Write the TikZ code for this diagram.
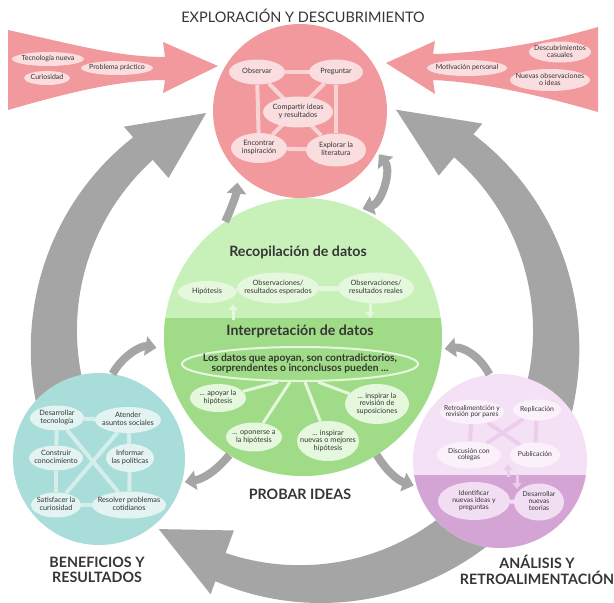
\documentclass[tikz,border=0pt]{standalone}
\usepackage{fontspec}
\setmainfont{Lato}
\usetikzlibrary{arrows.meta,positioning,shapes.geometric}

\definecolor{rojo}{HTML}{F1999D}
\definecolor{rojoclaro}{HTML}{FADDDE}
\definecolor{rojolink}{HTML}{F8D3D4}
\definecolor{verdeclaro}{HTML}{C8F0B9}
\definecolor{verde}{HTML}{A0DC87}
\definecolor{verdepill}{HTML}{E5F7DD}
\definecolor{turq}{HTML}{A8DDD9}
\definecolor{turqpill}{HTML}{E2F3F1}
\definecolor{turqlink}{HTML}{D4EEEB}
\definecolor{lilaclaro}{HTML}{F5E1F5}
\definecolor{lila}{HTML}{D4A5D4}
\definecolor{lilapill}{HTML}{FBF1FB}
\definecolor{lilabajo}{HTML}{F2DEF2}
\definecolor{lilalink}{HTML}{ECCDEC}
\definecolor{gris}{HTML}{A5A5A5}
\definecolor{texto}{HTML}{353535}

\pgfdeclarelayer{frente}
\pgfsetlayers{main,frente}

\newcommand{\ptx}[1]{\makebox[0pt]{\begin{tabular}{@{}c@{}}#1\end{tabular}}}
\renewcommand{\arraystretch}{0.8}

% flecha gris curva: angulo cola, angulo base de punta, angulo punta
\newcommand{\flechagris}[3]{%
  \fill[gris, shift={(305,335)}]
    plot[domain=#1:#2, samples=40] (\x:{280-18*(\x-#1)/(#2-#1)})
    -- (#2:276) -- (#3:243) -- (#2:208)
    -- plot[domain=#2:#1, samples=40] (\x:{232-6*(\x-#2)/(#1-#2)})
    -- cycle;}

\tikzset{
  circulo/.style={circle, inner sep=0pt},
  pill/.style={ellipse, inner sep=0pt, text=texto, font=\fontsize{7.3}{8.6}\selectfont},
  pillrojo/.style={pill, fill=rojoclaro},
  pillverde/.style={pill, fill=verdepill},
  pillturq/.style={pill, fill=turqpill},
  pilllila/.style={pill, fill=lilapill, font=\fontsize{6.8}{8}\selectfont},
  enlace/.style={draw, line width=4pt},
  flechita/.style={draw=gris, line width=8pt, -{Triangle[width=19pt,length=11pt]}},
  flechaclara/.style={draw=verdepill, line width=3pt, -{Triangle[width=9pt,length=6pt]}},
  etiqueta/.style={text=texto, align=center, font=\fontsize{14.3}{15.5}\selectfont\bfseries},
  subtitulo/.style={text=texto, font=\fontsize{14.2}{15}\selectfont\bfseries}
}

\begin{document}
\begin{tikzpicture}[x=1pt, y=-1pt]
  \useasboundingbox (0,0) rectangle (614,603);

  % grandes flechas grises del ciclo
  \flechagris{155}{229}{246}
  \flechagris{25}{-50}{-68}
  \flechagris{45}{110}{127}

  % flechas rojas de entrada
  \fill[rojo] (8,30) .. controls (80,46) and (120,57) .. (165,57) -- (163,42) -- (218,66)
    -- (163,93) -- (165,80) .. controls (120,80) and (70,92) .. (8,110) -- cycle;
  \fill[rojo] (598,27) .. controls (540,44) and (480,53) .. (433,54) -- (435,41) -- (386,63)
    -- (435,94) -- (433,80) .. controls (480,82) and (540,95) .. (598,112) -- cycle;

  % los cuatro circulos
  \node[circulo, fill=rojo, minimum size=174pt] (explora) at (300,111) {};
  \node[circulo, fill=verdeclaro, minimum size=278pt,
    path picture={\fill[verde] ([yshift=19pt]path picture bounding box.west)
      rectangle (path picture bounding box.south east);}] (prueba) at (303,337) {};
  \node[circulo, fill=turq, minimum size=172pt] (benef) at (99,459) {};
  \node[circulo, fill=lilaclaro, minimum size=174pt,
    path picture={\fill[lila] ([yshift=-14pt]path picture bounding box.west)
      rectangle (path picture bounding box.south east);}] (analisis) at (500,461) {};

  % flechas grises entre circulos
  \draw[flechita, shorten >=10pt] (prueba.124) to[bend right=10] (explora.225);
  \draw[flechita, {Triangle[width=19pt,length=11pt]}-{Triangle[width=19pt,length=11pt]},
    shorten >=3pt, shorten <=3pt] (explora.-28) to[bend left=55] (prueba.66);
  \draw[flechita, shorten >=8pt] (benef.81) to[bend left=35] (prueba.185);
  \draw[flechita, shorten >=3pt] (prueba.238) to[bend left=20] (benef.344);
  \draw[flechita, shorten >=3pt] (prueba.-58) to[bend right=20] (analisis.197);
  \draw[flechita, shorten >=3pt] (analisis.97) to[bend right=35] (prueba.-5);

  \begin{pgfonlayer}{frente}
  % entradas
  \foreach \pos/\name/\w/\h/\txt in {
    {(48,59)/tecn/72/14/Tecnología nueva}, {(47,78)/curi/46/14/Curiosidad},
    {(117,68)/prob/72/14/Problema práctico}, {(467,68)/moti/80/16/Motivación personal},
    {(560,52)/desc/62/21/{Descubrimientos\\casuales}},
    {(550,80)/obsn/80/22/{Nuevas observaciones\\o ideas}}} {
    \node[pillrojo, font=\fontsize{7}{8}\selectfont, minimum width=\w pt, minimum height=\h pt]
      (\name) at \pos {\ptx{\txt}};
  }

  % exploracion
  \foreach \pos/\name/\w/\h/\txt in {
    {(257,72)/obs/56/25/Observar}, {(336,72)/preg/54/25/Preguntar},
    {(298,112)/comp/70/31/{Compartir ideas\\y resultados}},
    {(259,148)/enco/56/30/{Encontrar\\inspiración}},
    {(336,150)/lite/60/33/{Explorar la\\literatura}}} {
    \node[pillrojo, minimum width=\w pt, minimum height=\h pt] (\name) at \pos {\ptx{\txt}};
  }

  % probar ideas
  \node[subtitulo] (recop) at (298,252) {Recopilación de datos};
  \foreach \pos/\name/\w/\h/\txt in {
    {(207,292)/hipo/58/22/Hipótesis},
    {(278,288)/espe/82/31/{Observaciones/\\resultados esperados}},
    {(376,288)/real/76/31/{Observaciones/\\resultados reales}}} {
    \node[pillverde, minimum width=\w pt, minimum height=\h pt] (\name) at \pos {\ptx{\txt}};
  }
  \node[subtitulo] (interp) at (300,331) {Interpretación de datos};
  \node[ellipse, draw=verdepill, line width=2pt, inner sep=0pt, minimum width=236pt,
    minimum height=34pt, text=texto, font=\fontsize{10.3}{11.6}\selectfont\bfseries]
    (datos) at (300,364) {\ptx{Los datos que apoyan, son contradictorios,\\sorprendentes o inconclusos pueden ...}};
  \foreach \pos/\name/\w/\h/\txt in {
    {(218,398)/apoy/56/28/{... apoyar la\\hipótesis}},
    {(254,437)/opon/56/29/{... oponerse a\\la hipótesis}},
    {(328,441)/nuev/62/40/{... inspirar\\nuevas o mejores\\hipótesis}},
    {(377,404)/revi/64/40/{... inspirar la\\revisión de\\suposiciones}}} {
    \node[pillverde, minimum width=\w pt, minimum height=\h pt] (\name) at \pos {\ptx{\txt}};
  }

  % beneficios
  \foreach \pos/\name/\w/\h/\txt in {
    {(57,418)/desa/54/25/{Desarrollar\\tecnología}},
    {(128,420)/aten/66/26/{Atender\\asuntos sociales}},
    {(56,458)/cons/54/25/{Construir\\conocimiento}},
    {(130,458)/info/48/28/{Informar\\las políticas}},
    {(56,505)/sati/50/25/{Satisfacer la\\curiosidad}},
    {(129,505)/reso/74/27/{Resolver problemas\\cotidianos}}} {
    \node[pillturq, minimum width=\w pt, minimum height=\h pt] (\name) at \pos {\ptx{\txt}};
  }

  % analisis
  \foreach \pos/\name/\w/\h/\fondo/\txt in {
    {(472,412)/retr/64/24/lilapill/{Retroalimentción y\\revisión por pares}},
    {(537,410)/repl/48/21/lilapill/Replicación},
    {(469,455)/disc/64/27/lilapill/{Discusión con\\colegas}},
    {(535,455)/publ/50/25/lilapill/Publicación},
    {(474,501)/iden/72/38/lilabajo/{Identificar\\nuevas ideas y\\preguntas}},
    {(539,502)/teor/50/37/lilabajo/{Desarrollar\\nuevas\\teorías}}} {
    \node[pilllila, fill=\fondo, minimum width=\w pt, minimum height=\h pt]
      (\name) at \pos {\ptx{\txt}};
  }
  \end{pgfonlayer}

  % enlaces entre ideas, detras de las elipses
  \foreach \source/\sink in {obs/preg, enco/lite, obs/enco, preg/lite, obs/lite, preg/enco} {
    \path[enlace, rojolink] (\source) -- (\sink);
  }
  \foreach \source/\sink in {hipo/espe, espe/real} {
    \path[enlace, verdepill, line width=5pt] (\source) -- (\sink);
  }
  \draw[flechaclara] (233,320) -- (233,304);
  \draw[flechaclara] (370,302) -- (370,318);
  \foreach \dx/\sink in {-22/apoy, -10/opon, 5/nuev, 18/revi} {
    \path[enlace, verdepill, line width=3pt] ([xshift=\dx pt]datos.south) -- (\sink);
  }
  \foreach \source/\sink in {desa/aten, desa/cons, cons/sati, sati/reso, aten/info, info/reso, desa/reso, aten/sati} {
    \path[enlace, turqlink] (\source) -- (\sink);
  }
  \foreach \source/\sink in {retr/disc, retr/publ, repl/disc, repl/publ} {
    \path[enlace, lilalink] (\source) -- (\sink);
  }
  \path[enlace, lilabajo] (iden) -- (teor);
  \draw[flechaclara, draw=lilalink] (508,477) -- (508,464);
  \draw[flechaclara, draw=lilalink] (517,474) -- (517,489);

  % etiquetas
  \node[etiqueta, font=\fontsize{14.5}{15.5}\selectfont] (titulo) at (303,16) {EXPLORACIÓN Y DESCUBRIMIENTO};
  \node[etiqueta] (probar) at (300,494) {PROBAR IDEAS};
  \node[etiqueta] (benefl) at (97,570) {BENEFICIOS Y\\RESULTADOS};
  \node[etiqueta] (analil) at (537,570) {ANÁLISIS Y\\RETROALIMENTACIÓN};
\end{tikzpicture}
\end{document}
